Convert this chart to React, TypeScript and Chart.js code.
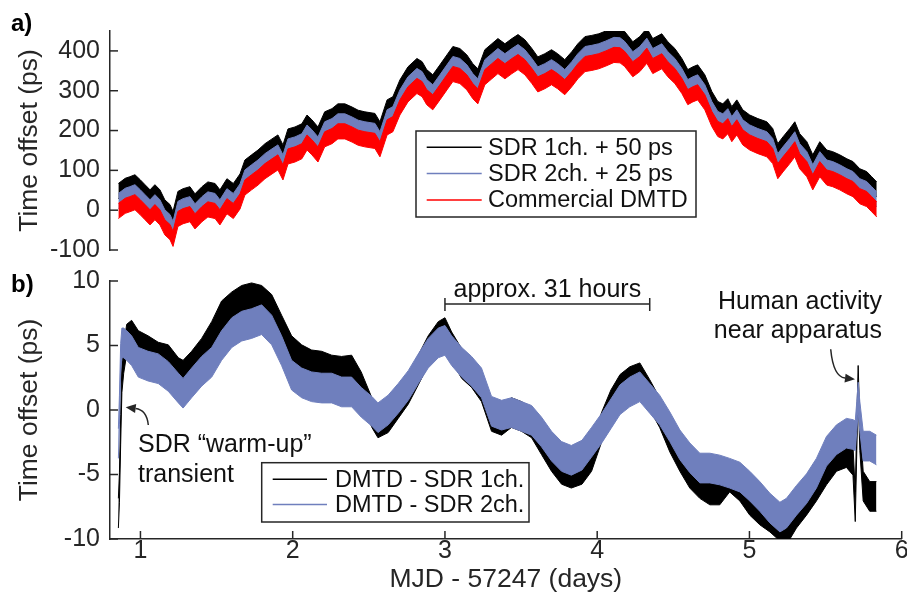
import React, { useEffect, useRef } from 'react';
import { Chart, registerables } from 'chart.js';

Chart.register(...registerables);

const FONT = '"Liberation Sans", Arial, Helvetica, sans-serif';
const AXIS_COLOR = '#262626';
const TEXT_COLOR = '#111111';
const BLACK = '#000000';
const BLUE = '#6f7fbd';
const RED = '#ff0000';

// ---------- shared x axis ----------
const X_MIN = 0.8;
const X_MAX = 6;
const X_TICKS = [1, 2, 3, 4, 5, 6];
const X_TITLE = 'MJD - 57247 (days)';
const Y_TITLE = 'Time offset (ps)';

// ---------- panel a) ----------
const TOP_Y_MIN = -100;
const TOP_Y_MAX = 450;
const TOP_Y_TICKS = [-100, 0, 100, 200, 300, 400];
const TOP_NOISE = 19; // half-width (ps) of the noise band
const TOP_T = [
  0.855, 0.9, 0.93, 0.964, 0.997, 1.03, 1.063, 1.095, 1.128, 1.16, 1.194, 1.214, 1.246, 1.28, 1.325,
  1.358, 1.404, 1.443, 1.49, 1.522, 1.568, 1.61, 1.654, 1.686, 1.73, 1.772, 1.818, 1.864, 1.903, 1.936,
  1.969, 2.015, 2.06, 2.094, 2.126, 2.166, 2.21, 2.258, 2.297, 2.343, 2.39, 2.43, 2.474, 2.54, 2.573,
  2.62, 2.658, 2.704, 2.757, 2.816, 2.85, 2.88, 2.92, 2.967, 3.013, 3.052, 3.098, 3.144, 3.183, 3.216,
  3.262, 3.308, 3.348, 3.394, 3.44, 3.48, 3.525, 3.571, 3.61, 3.656, 3.7, 3.74, 3.787, 3.833, 3.873,
  3.92, 3.965, 4.01, 4.057, 4.11, 4.15, 4.18, 4.234, 4.28, 4.326, 4.365, 4.424, 4.464, 4.51, 4.556,
  4.595, 4.628, 4.66, 4.707, 4.753, 4.792, 4.825, 4.858, 4.884, 4.917, 4.956, 5.002, 5.055, 5.114, 5.153,
  5.186, 5.22, 5.265, 5.298, 5.33, 5.377, 5.416, 5.462, 5.508, 5.547, 5.593, 5.64, 5.68, 5.725, 5.77,
  5.803, 5.836,
];
const TOP_DMTD = [
  -2, 11, 15, 20, 8, -5, -18, -5, -18, -43, -55, -72, -22, -15, -10,
  -28, -10, 2, -2, -18, 10, -2, 22, 57, 70, 82, 98, 110, 120, 95,
  135, 140, 148, 170, 158, 140, 178, 186, 198, 198, 190, 182, 178, 174, 153,
  208, 216, 258, 291, 312, 304, 284, 271, 296, 321, 342, 337, 321, 299, 286,
  334, 349, 362, 349, 362, 372, 359, 337, 316, 324, 334, 324, 309, 329, 349,
  367, 370, 374, 381, 390, 389, 380, 354, 367, 388, 362, 374, 354, 337, 312,
  284, 291, 296, 271, 229, 204, 198, 211, 191, 208, 183, 170, 161, 153, 136,
  98, 115, 136, 153, 123, 103, 70, 103, 82, 78, 70, 60, 53, 35, 28,
  15, 2,
];
const TOP_SDR2 = [
  23, 36, 40, 45, 33, 20, 7, 20, 7, -18, -30, -47, 3, 10, 15,
  -3, 15, 27, 23, 7, 35, 23, 47, 82, 95, 107, 123, 135, 145, 120,
  160, 165, 173, 195, 183, 165, 203, 211, 223, 223, 215, 207, 203, 199, 178,
  233, 241, 283, 316, 337, 329, 309, 296, 321, 346, 367, 362, 346, 324, 311,
  359, 374, 387, 374, 387, 397, 384, 362, 341, 349, 359, 349, 334, 354, 374,
  392, 395, 399, 406, 415, 414, 405, 379, 392, 413, 387, 399, 379, 362, 337,
  309, 316, 321, 296, 254, 229, 223, 236, 216, 233, 208, 195, 186, 178, 161,
  123, 140, 161, 178, 148, 128, 95, 128, 107, 103, 95, 85, 78, 60, 53,
  40, 27,
];
const TOP_SDR1 = [
  48, 61, 65, 70, 58, 45, 32, 45, 32, 7, -5, -22, 28, 35, 40,
  22, 40, 52, 48, 32, 60, 48, 72, 107, 120, 132, 148, 160, 170, 145,
  185, 190, 198, 220, 208, 190, 228, 236, 248, 248, 240, 232, 228, 224, 203,
  258, 266, 308, 341, 362, 354, 334, 321, 346, 371, 392, 387, 371, 349, 336,
  384, 399, 412, 399, 412, 422, 409, 387, 366, 374, 384, 374, 359, 379, 399,
  417, 420, 424, 431, 440, 439, 430, 404, 417, 438, 412, 424, 404, 387, 362,
  334, 341, 346, 321, 279, 254, 248, 261, 241, 258, 233, 220, 211, 203, 186,
  148, 165, 186, 203, 173, 153, 120, 153, 132, 128, 120, 110, 103, 85, 78,
  65, 52,
];
const TOP_LEGEND_LABELS = ['SDR 1ch. + 50 ps', 'SDR 2ch. + 25 ps', 'Commercial DMTD'];

// ---------- panel b) ----------
const BOT_Y_MIN = -10;
const BOT_Y_MAX = 10;
const BOT_Y_TICKS = [-10, -5, 0, 5, 10];
const BOT_NOISE = 1.15; // half-width (ps) of the noise band
const BOT_T = [
  0.855, 0.862, 0.87, 0.878, 0.89, 0.91, 0.942, 0.986, 1.05, 1.117, 1.183, 1.249, 1.28, 1.336, 1.402,
  1.468, 1.533, 1.6, 1.665, 1.73, 1.796, 1.862, 1.927, 1.993, 2.059, 2.124, 2.19, 2.256, 2.321, 2.387,
  2.45, 2.52, 2.56, 2.627, 2.693, 2.759, 2.825, 2.89, 2.956, 3.0, 3.044, 3.11, 3.175, 3.24, 3.306,
  3.372, 3.437, 3.503, 3.569, 3.634, 3.7, 3.766, 3.83, 3.9, 3.963, 4.03, 4.09, 4.15, 4.214, 4.28,
  4.345, 4.41, 4.477, 4.543, 4.608, 4.674, 4.74, 4.805, 4.87, 4.937, 5.002, 5.068, 5.134, 5.2, 5.243,
  5.309, 5.375, 5.44, 5.506, 5.572, 5.637, 5.68, 5.695, 5.705, 5.714, 5.725, 5.747, 5.79, 5.834,
];
const BOT_SDR1 = [
  -8.0, -6.0, -1.5, 2.5, 4.0, 5.5, 5.8, 5.0, 4.6, 4.1, 3.9, 2.9, 2.7, 3.4, 4.4,
  5.7, 7.3, 8.0, 8.5, 8.7, 8.5, 7.8, 6.2, 4.6, 3.9, 3.5, 3.4, 3.1, 3.0, 3.1,
  1.8, -0.2, -1.0, -0.6, 0.5, 1.6, 3.1, 4.6, 5.7, 6.0, 4.9, 3.6, 2.9, 1.8, -0.5,
  -0.8, -0.2, -0.5, -1.0, -2.3, -3.6, -4.6, -4.9, -4.6, -3.6, -1.3, 0.4, 1.6, 2.2, 2.5,
  1.2, -0.2, -2.1, -3.6, -4.9, -5.7, -6.2, -6.2, -5.2, -5.9, -7.0, -7.75, -8.3, -9.0, -9.3,
  -8.0, -7.0, -5.9, -4.65, -3.6, -3.3, -3.9, -7.5, -2.0, 2.3, -2.0, -5.9, -6.7, -6.7,
];
const BOT_SDR2 = [
  -2.6, 0.0, 4.0, 5.2, 5.2, 5.0, 4.6, 3.7, 3.4, 3.2, 2.6, 1.7, 1.3, 2.1, 3.0,
  3.7, 5.0, 6.0, 6.5, 6.7, 7.0, 6.2, 4.6, 2.7, 2.1, 1.8, 1.7, 1.7, 1.4, 1.4,
  0.6, -0.1, -0.6, 0.0, 0.9, 1.9, 3.2, 4.4, 5.2, 5.4, 4.6, 3.7, 3.0, 2.1, -0.1,
  -0.4, -0.2, -0.5, -0.8, -1.7, -2.8, -3.6, -3.9, -3.5, -2.5, -1.4, -0.3, 0.8, 1.4, 1.8,
  0.9, 0.0, -1.3, -2.7, -3.7, -4.5, -4.5, -4.65, -4.9, -5.2, -5.9, -6.7, -7.6, -8.3, -8.0,
  -7.0, -6.1, -4.9, -3.2, -2.3, -1.8, -1.9, -2.0, -0.5, 1.0, -0.5, -2.8, -2.8, -3.1,
];
const BOT_LEGEND_LABELS = ['DMTD - SDR 1ch.', 'DMTD - SDR 2ch.'];
const BRACKET_FROM = 3.0;
const BRACKET_TO = 4.345;
const BRACKET_LABEL = 'approx. 31 hours';

// ---------- layout (pixels) ----------
const W = 907;
const TOP_H = 262;
const BOT_H = 331;
const Y_AXIS_W = 110;
const X_AXIS_H = 54;
const TICK_LEN = 8;

function bandDatasets(t: number[], v: number[], hw: number, color: string, order: number) {
  const upper = t.map((x, i) => ({ x, y: v[i] + hw }));
  const lower = t.map((x, i) => ({ x, y: v[i] - hw }));
  return [
    { data: upper, borderColor: color, backgroundColor: color, borderWidth: 1, pointRadius: 0, fill: false, order, tension: 0 },
    { data: lower, borderColor: color, backgroundColor: color, borderWidth: 1, pointRadius: 0, fill: '-1', order, tension: 0 },
  ];
}

function yScale(min: number, max: number, ticks: number[]) {
  return {
    type: 'linear',
    min,
    max,
    grid: { display: false, drawTicks: false },
    border: { display: true, color: AXIS_COLOR, width: 1.5 },
    ticks: { color: AXIS_COLOR, padding: 10, font: { family: FONT, size: 25, lineHeight: 1 } },
    afterBuildTicks: (s: any) => {
      s.ticks = ticks.map((v) => ({ value: v }));
    },
    afterFit: (s: any) => {
      s.width = Y_AXIS_W;
      s.paddingTop = 0;
      s.paddingBottom = 0;
    },
    title: {
      display: true,
      text: Y_TITLE,
      color: AXIS_COLOR,
      font: { family: FONT, size: 26.5, lineHeight: 1 },
      padding: { top: 16, bottom: 0 },
    },
  };
}

function innerTicks(withX: boolean) {
  return {
    id: 'innerTicks',
    afterDraw(chart: any) {
      const ctx = chart.ctx;
      const a = chart.chartArea;
      ctx.save();
      ctx.strokeStyle = AXIS_COLOR;
      ctx.lineWidth = 1.5;
      const y = chart.scales.y;
      y.ticks.forEach((t: any) => {
        const p = y.getPixelForValue(t.value);
        ctx.beginPath();
        ctx.moveTo(a.left, p);
        ctx.lineTo(a.left + TICK_LEN, p);
        ctx.stroke();
      });
      if (withX) {
        const x = chart.scales.x;
        x.ticks.forEach((t: any) => {
          const p = x.getPixelForValue(t.value);
          ctx.beginPath();
          ctx.moveTo(p, a.bottom);
          ctx.lineTo(p, a.bottom - TICK_LEN);
          ctx.stroke();
        });
      }
      ctx.restore();
    },
  };
}

function drawLegend(ctx: CanvasRenderingContext2D, box: { x: number; y: number; w: number; h: number }, lineX0: number, lineX1: number, textX: number, rows: number[], labels: string[], colors: string[]) {
  ctx.save();
  ctx.fillStyle = '#ffffff';
  ctx.fillRect(box.x, box.y, box.w, box.h);
  ctx.strokeStyle = AXIS_COLOR;
  ctx.lineWidth = 1.5;
  ctx.strokeRect(box.x, box.y, box.w, box.h);
  ctx.font = `23.5px ${FONT}`;
  ctx.textBaseline = 'middle';
  ctx.textAlign = 'left';
  labels.forEach((lab, i) => {
    ctx.strokeStyle = colors[i];
    ctx.lineWidth = 1.6;
    ctx.beginPath();
    ctx.moveTo(lineX0, rows[i]);
    ctx.lineTo(lineX1, rows[i]);
    ctx.stroke();
    ctx.fillStyle = TEXT_COLOR;
    ctx.fillText(lab, textX, rows[i] + 1);
  });
  ctx.restore();
}

function curvedArrow(ctx: CanvasRenderingContext2D, x0: number, y0: number, cx: number, cy: number, x1: number, y1: number) {
  ctx.save();
  ctx.strokeStyle = AXIS_COLOR;
  ctx.fillStyle = AXIS_COLOR;
  ctx.lineWidth = 1.5;
  const ang = Math.atan2(y1 - cy, x1 - cx);
  const L = 10;
  const Wd = 4.5;
  const bx = x1 - L * Math.cos(ang);
  const by = y1 - L * Math.sin(ang);
  ctx.beginPath();
  ctx.moveTo(x0, y0);
  ctx.quadraticCurveTo(cx, cy, bx, by);
  ctx.stroke();
  ctx.beginPath();
  ctx.moveTo(x1, y1);
  ctx.lineTo(bx + Wd * Math.sin(ang), by - Wd * Math.cos(ang));
  ctx.lineTo(bx - Wd * Math.sin(ang), by + Wd * Math.cos(ang));
  ctx.closePath();
  ctx.fill();
  ctx.restore();
}

const topOverlay = {
  id: 'topOverlay',
  afterDraw(chart: any) {
    const ctx: CanvasRenderingContext2D = chart.ctx;
    drawLegend(ctx, { x: 416, y: 131, w: 280, h: 86 }, 426.7, 481.7, 488, [147.3, 173.5, 200], TOP_LEGEND_LABELS, [BLACK, BLUE, RED]);
    ctx.save();
    ctx.fillStyle = BLACK;
    ctx.font = `bold 24px ${FONT}`;
    ctx.textBaseline = 'alphabetic';
    ctx.textAlign = 'left';
    ctx.fillText('a)', 11, 30.5);
    ctx.restore();
  },
};

const botOverlay = {
  id: 'botOverlay',
  afterDraw(chart: any) {
    const ctx: CanvasRenderingContext2D = chart.ctx;
    const x = chart.scales.x;
    drawLegend(ctx, { x: 261.7, y: 200.7, w: 267.3, h: 59.3 }, 272.7, 327, 335, [217.3, 242.5], BOT_LEGEND_LABELS, [BLACK, BLUE]);
    ctx.save();
    ctx.fillStyle = BLACK;
    ctx.font = `bold 24px ${FONT}`;
    ctx.textBaseline = 'alphabetic';
    ctx.textAlign = 'left';
    ctx.fillText('b)', 11, 30.3);

    // bracket
    const b0 = x.getPixelForValue(BRACKET_FROM);
    const b1 = x.getPixelForValue(BRACKET_TO);
    ctx.strokeStyle = AXIS_COLOR;
    ctx.lineWidth = 1.5;
    ctx.beginPath();
    ctx.moveTo(b0, 42);
    ctx.lineTo(b1, 42);
    ctx.moveTo(b0, 36);
    ctx.lineTo(b0, 49);
    ctx.moveTo(b1, 36);
    ctx.lineTo(b1, 49);
    ctx.stroke();

    ctx.fillStyle = TEXT_COLOR;
    ctx.font = `25px ${FONT}`;
    ctx.textAlign = 'center';
    ctx.fillText(BRACKET_LABEL, (b0 + b1) / 2, 35);

    ctx.textAlign = 'right';
    ctx.fillText('Human activity', 882, 47);
    ctx.fillText('near apparatus', 882, 76.3);

    ctx.textAlign = 'left';
    ctx.fillText('SDR \u201cwarm-up\u201d', 138, 189.7);
    ctx.fillText('transient', 138, 219.7);
    ctx.restore();

    curvedArrow(ctx, 830.7, 87.3, 833.3, 114.7, 855, 117.3);
    curvedArrow(ctx, 148.3, 163, 146.7, 148, 125.7, 145.3);
  },
};

export default function App() {
  const topRef = useRef<HTMLCanvasElement>(null);
  const botRef = useRef<HTMLCanvasElement>(null);

  useEffect(() => {
    const topChart = new Chart(topRef.current as HTMLCanvasElement, {
      type: 'line',
      data: {
        datasets: [
          ...bandDatasets(TOP_T, TOP_DMTD, TOP_NOISE, RED, 0),
          ...bandDatasets(TOP_T, TOP_SDR2, TOP_NOISE, BLUE, 1),
          ...bandDatasets(TOP_T, TOP_SDR1, TOP_NOISE, BLACK, 2),
        ] as any,
      },
      options: {
        animation: false,
        responsive: false,
        events: [],
        layout: { padding: { left: 0, right: 5.3, top: 31, bottom: 12 } },
        plugins: { legend: { display: false }, tooltip: { enabled: false } },
        scales: {
          x: { type: 'linear', min: X_MIN, max: X_MAX, display: false },
          y: yScale(TOP_Y_MIN, TOP_Y_MAX, TOP_Y_TICKS) as any,
        },
      } as any,
      plugins: [innerTicks(false), topOverlay] as any,
    });

    const botChart = new Chart(botRef.current as HTMLCanvasElement, {
      type: 'line',
      data: {
        datasets: [
          ...bandDatasets(BOT_T, BOT_SDR2, BOT_NOISE, BLUE, 0),
          ...bandDatasets(BOT_T, BOT_SDR1, BOT_NOISE, BLACK, 1),
        ] as any,
      },
      options: {
        animation: false,
        responsive: false,
        events: [],
        layout: { padding: { left: 0, right: 5.3, top: 19, bottom: 0 } },
        plugins: { legend: { display: false }, tooltip: { enabled: false } },
        scales: {
          x: {
            type: 'linear',
            min: X_MIN,
            max: X_MAX,
            grid: { display: false, drawTicks: false },
            border: { display: true, color: AXIS_COLOR, width: 1.5 },
            ticks: { color: AXIS_COLOR, padding: 0, maxRotation: 0, autoSkip: false, font: { family: FONT, size: 25, lineHeight: 1 } },
            afterBuildTicks: (s: any) => {
              s.ticks = X_TICKS.map((v) => ({ value: v }));
            },
            afterFit: (s: any) => {
              s.height = X_AXIS_H;
              s.paddingLeft = 0;
              s.paddingRight = 0;
            },
            title: {
              display: true,
              text: X_TITLE,
              color: AXIS_COLOR,
              font: { family: FONT, size: 26.5, lineHeight: 1 },
              padding: { top: 0, bottom: 0 },
            },
          },
          y: yScale(BOT_Y_MIN, BOT_Y_MAX, BOT_Y_TICKS) as any,
        },
      } as any,
      plugins: [innerTicks(true), botOverlay] as any,
    });

    return () => {
      topChart.destroy();
      botChart.destroy();
    };
  }, []);

  return (
    <div style={{ position: 'absolute', left: 0, top: 0, width: W, height: TOP_H + BOT_H, background: '#ffffff' }}>
      <canvas ref={topRef} width={W} height={TOP_H} style={{ position: 'absolute', left: 0, top: 0, width: W, height: TOP_H }} />
      <canvas ref={botRef} width={W} height={BOT_H} style={{ position: 'absolute', left: 0, top: TOP_H, width: W, height: BOT_H }} />
    </div>
  );
}
